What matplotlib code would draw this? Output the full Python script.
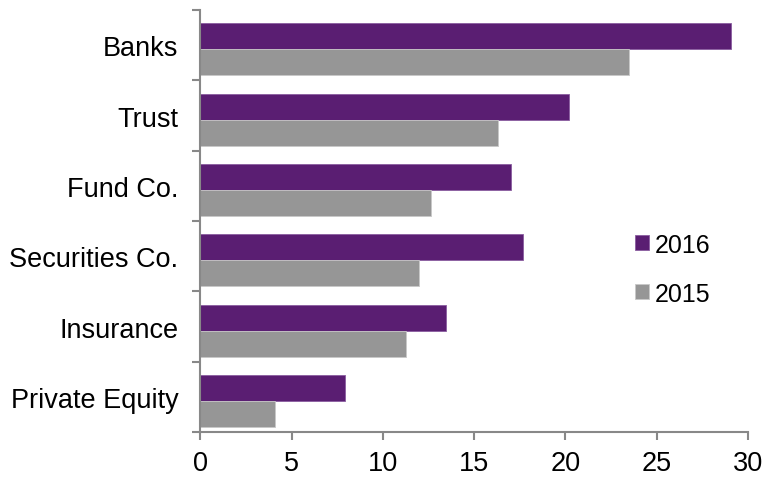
import matplotlib
matplotlib.use("Agg")
import matplotlib.pyplot as plt
import numpy as np

categories = ["Banks", "Trust", "Fund Co.", "Securities Co.", "Insurance", "Private Equity"]
values_2016 = [29.05, 20.2, 17.0, 17.65, 13.45, 7.9]
values_2015 = [23.5, 16.3, 12.65, 11.95, 11.25, 4.1]
xticks = [0, 5, 10, 15, 20, 25, 30]

plt.rcParams['font.family'] = ['Liberation Sans', 'DejaVu Sans']

fig = plt.figure(figsize=(7.67, 4.81), dpi=100)
ax = fig.add_axes([0.2614, 0.0998, 0.9752 - 0.2614, 0.977 - 0.0998])

purple = "#5A1E72"
gray = "#969696"
h = 0.37
y = np.arange(len(categories))
ax.barh(y - h / 2 + 0.06, values_2016, height=h, color=purple, edgecolor="#8a5ca0", linewidth=0.6, label="2016")
ax.barh(y + h / 2 + 0.06, values_2015, height=h, color=gray, edgecolor="#c8c8c8", linewidth=0.6, label="2015")

ax.set_ylim(len(categories) - 0.5, -0.5)
ax.set_xlim(0, 30)
ax.set_xticks(xticks)
ax.set_xticklabels([str(t) for t in xticks], fontsize=19.5)
ax.set_yticks(y)
ax.set_yticklabels(categories, fontsize=19.5)
ax.set_yticks(np.arange(-0.5, len(categories), 1), minor=True)
ax.tick_params(axis='y', which='major', length=0, pad=16)
ax.tick_params(axis='y', which='minor', length=6, width=1.5, color="#888888", direction='out')
ax.tick_params(axis='x', which='major', length=6, width=1.5, color="#888888", direction='out', pad=7)

for s in ["top", "right"]:
    ax.spines[s].set_visible(False)
for s in ["left", "bottom"]:
    ax.spines[s].set_color("#888888")
    ax.spines[s].set_linewidth(1.5)

ax.legend(loc="upper left", bbox_to_anchor=(0.761, 0.514), frameon=False, fontsize=18,
          handlelength=0.56, handleheight=0.56, handletextpad=0.25, labelspacing=1.0,
          borderaxespad=0.3)

fig.savefig("out.png", dpi=100)
